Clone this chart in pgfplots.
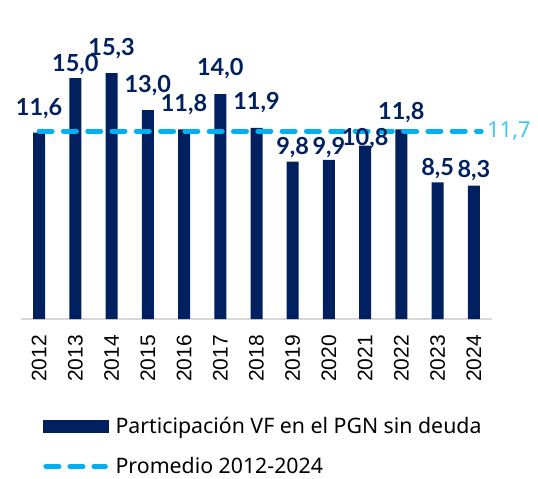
\documentclass[border=0pt]{standalone}
\usepackage{fontspec}
\setmainfont{Noto Sans}
\newfontfamily\tickfont{Liberation Sans}
\newfontfamily\lblfont{Lato}
\usepackage{pgfplots}
\usepackage{pgfplotstable}
\pgfplotsset{compat=1.18}

\definecolor{navy}{HTML}{002060}
\definecolor{cielo}{HTML}{00B0F0}
\definecolor{cielolbl}{HTML}{40C8F8}
\definecolor{eje}{HTML}{D9D9D9}

% participacion por anio; off = distancia de la etiqueta sobre la barra (pt)
\pgfplotstableread{
x  val   off
0  11.6  17
1  15.0  7
2  15.3  18
3  13.0  18
4  11.8  18
5  14.0  19
6  11.9  18
7  9.8   6.6
8  9.9   5
9  10.8  0.5
10 11.8  9.5
11 8.5   6.5
12 8.3   7.7
}\datos

\begin{document}
\begin{tikzpicture}
\begin{axis}[
    at={(0,0)}, anchor=south west,
    scale only axis, width=471pt, height=319pt,
    xmin=-0.5, xmax=12.5, ymin=0, ymax=19.86,
    clip=false,
    axis x line*=bottom, axis y line=none,
    x axis line style={draw=eje, line width=1.5pt, -},
    xtick={0,...,12},
    xticklabels={2012,2013,2014,2015,2016,2017,2018,2019,2020,2021,2022,2023,2024},
    major tick length=0pt,
    xticklabel style={rotate=90, anchor=east, inner sep=0pt,
        font=\tickfont\fontsize{21}{21}\selectfont},
    xticklabel shift=16pt,
    /pgf/number format/.cd, use comma, fixed, fixed zerofill, precision=1,
        assume math mode=true,
    /pgfplots/.cd,
    legend style={at={(axis description cs:0.0467,-0.30)}, anchor=north west,
        draw=none, fill=none, inner sep=0pt, row sep=19pt,
        font=\fontsize{21.3}{21.3}\selectfont,
        /tikz/every odd column/.append style={column sep=5pt}},
    legend cell align=left,
]
\addplot[ybar, bar width=12pt, fill=navy, draw=none, forget plot,
    nodes near coords, point meta=explicit,
    visualization depends on={\thisrow{off} \as \off},
    nodes near coords style={anchor=base, yshift=\off pt, inner sep=0pt,
        font=\lblfont\bfseries\fontsize{23.5}{23.5}\selectfont, text=navy}]
    table[x=x, y=val, meta=val] {\datos};

\addplot[cielo, line width=5pt, line cap=round, dash pattern=on 13pt off 11.3pt, forget plot]
    coordinates {(0,11.7) (12.2,11.7)};
\node[anchor=west, inner sep=0pt, text=cielolbl, font=\fontsize{22}{22}\selectfont]
    at (axis cs:12.36,11.7) {11,7};

\addlegendimage{legend image code/.code={\fill[navy] (0pt,-6pt) rectangle (65pt,6pt);}}
\addlegendentry{Participación VF en el PGN sin deuda}
\addlegendimage{legend image code/.code={\draw[cielo, line width=5pt, line cap=round,
    dash pattern=on 13pt off 11pt] (2.5pt,0) -- (62pt,0);}}
\addlegendentry{Promedio 2012-2024}
\end{axis}
\pgfresetboundingbox
\useasboundingbox (-21pt,-160pt) rectangle (517pt,319pt);
\end{tikzpicture}
\end{document}
